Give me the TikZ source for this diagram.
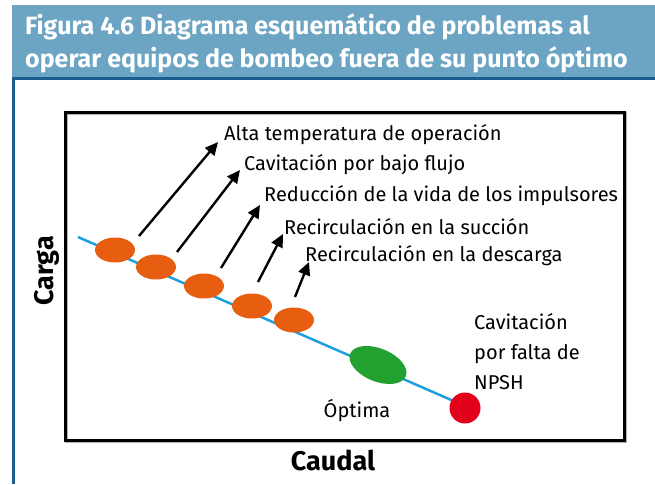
\documentclass[tikz,border=0pt]{standalone}
\usepackage{fontspec}
\setmainfont{Fira Sans}
\usetikzlibrary{arrows.meta,shapes.geometric}
\definecolor{band}{HTML}{6CA4C4}
\definecolor{bandline}{HTML}{1B5E8E}
\definecolor{curve}{HTML}{1EA0E0}
\definecolor{orng}{HTML}{E85E10}
\definecolor{grn}{HTML}{22A030}
\definecolor{rd}{HTML}{E2001A}
\tikzset{
  pt/.style={ellipse, fill=orng, minimum width=40pt, minimum height=25pt, inner sep=0pt},
  arr/.style={line width=2.4pt, -{Triangle[length=13pt,width=12pt]}},
  lbl/.style={anchor=west, font=\fontsize{20}{24}\selectfont, inner sep=0pt},
  ttl/.style={font=\bfseries\fontsize{25}{33}\selectfont, text=white, anchor=west, align=left, inner sep=0pt},
  axlbl/.style={font=\bfseries\fontsize{27}{30}\selectfont, inner sep=0pt}
}
\begin{document}
\begin{tikzpicture}[x=1pt,y=-1pt]
\useasboundingbox (0,0) rectangle (655,484);
% header
\fill[band] (12,5) rectangle (655,77);
\draw[bandline, line width=3pt] (12,78.5) -- (655,78.5);
\draw[bandline, line width=3pt] (13.5,77) -- (13.5,484);
\node[ttl] (title) at (25,43) {Figura 4.6 Diagrama esquemático de problemas al\\operar equipos de bombeo fuera de su punto óptimo};
% plot frame
\draw[gray!60, line width=3pt] (66.5,113.5) rectangle (625.5,441.5);
\draw[black, line width=3pt] (65.5,112.5) rectangle (624.5,440.5);
% curve
\coordinate (c0) at (78,237);
\coordinate (c1) at (465,406);
\draw[curve, line width=2.5pt] (c0) -- (c1);
% points
\node[pt] (p1) at (115,250) {};
\node[pt] (p2) at (156,267) {};
\node[pt] (p3) at (204,286) {};
\node[pt] (p4) at (252,306) {};
\node[pt] (p5) at (294,320) {};
\node[ellipse, fill=grn, minimum width=60pt, minimum height=33pt, rotate=-22, inner sep=0pt] (opt) at (378,365) {};
\node[circle, fill=rd, minimum size=31pt, inner sep=0pt] (npsh) at (465,408) {};
% arrows
\coordinate (a1s) at (139,236); \coordinate (a1e) at (218,142);
\coordinate (a2s) at (177,252); \coordinate (a2e) at (240,170);
\coordinate (a3s) at (221,268); \coordinate (a3e) at (260,205);
\coordinate (a4s) at (258,282); \coordinate (a4e) at (283,234);
\coordinate (a5s) at (295,297); \coordinate (a5e) at (309,262);
\draw[arr] (a1s) -- (a1e);
\draw[arr] (a2s) -- (a2e);
\draw[arr] (a3s) -- (a3e);
\draw[arr] (a4s) -- (a4e);
\draw[arr] (a5s) -- (a5e);
% labels
\node[lbl] (l1) at (224,135) {Alta temperatura de operación};
\node[lbl] (l2) at (244,165) {Cavitación por bajo flujo};
\node[lbl] (l3) at (264,196) {Reducción de la vida de los impulsores};
\node[lbl] (l4) at (284,227) {Recirculación en la succión};
\node[lbl] (l5) at (305,256) {Recirculación en la descarga};
\node[lbl, align=left, font=\fontsize{20}{30}\selectfont] (l6) at (474,352) {Cavitación\\por falta de\\NPSH};
\node[font=\fontsize{20}{24}\selectfont, inner sep=0pt] (l7) at (357,411) {Óptima};
\node[axlbl] (xl) at (333,460) {Caudal};
\node[axlbl, rotate=90] (yl) at (47,271) {Carga};
\end{tikzpicture}
\end{document}
